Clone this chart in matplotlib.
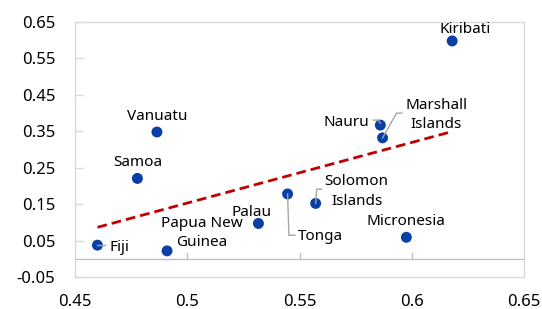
import numpy as np
import matplotlib
matplotlib.use("Agg")
import matplotlib.pyplot as plt
from matplotlib.transforms import IdentityTransform

plt.rcParams['font.family'] = ['Noto Sans', 'DejaVu Sans']

# ---- data ----
countries = ["Kiribati", "Nauru", "Marshall\nIslands", "Vanuatu", "Samoa", "Fiji",
             "Papua New\nGuinea", "Palau", "Tonga", "Solomon\nIslands", "Micronesia"]
x_vals = [0.618, 0.586, 0.587, 0.4865, 0.4778, 0.460, 0.491, 0.5317, 0.5447, 0.5572, 0.5976]
y_vals = [0.598, 0.367, 0.332, 0.348, 0.2206, 0.0374, 0.0217, 0.097, 0.178, 0.152, 0.059]
x_ticks = [0.45, 0.5, 0.55, 0.6, 0.65]
x_tick_labels = ["0.45", "0.5", "0.55", "0.6", "0.65"]
y_ticks = [-0.05, 0.05, 0.15, 0.25, 0.35, 0.45, 0.55, 0.65]
y_tick_labels = ["-0.05", "0.05", "0.15", "0.25", "0.35", "0.45", "0.55", "0.65"]

# ---- label layout (pixel offsets from point; y up) ----
label_layout = {
    "Kiribati": dict(dx=13, dy=11, ha="center"),
    "Nauru": dict(dx=-11, dy=3, ha="right"),
    "Marshall\nIslands": dict(dx=54, dy=23, ha="center"),
    "Vanuatu": dict(dx=0, dy=16, ha="center"),
    "Samoa": dict(dx=0, dy=16, ha="center"),
    "Fiji": dict(dx=12, dy=-2, ha="left"),
    "Papua New\nGuinea": dict(dx=34.5, dy=18, ha="center"),
    "Palau": dict(dx=-7, dy=11, ha="center"),
    "Tonga": dict(dx=10, dy=-43, ha="left"),
    "Solomon\nIslands": dict(dx=41, dy=12, ha="center"),
    "Micronesia": dict(dx=0, dy=16, ha="center"),
}
leaders = {
    "Marshall\nIslands": [(0, 0), (14, 24.7), (19.3, 24.7)],
    "Tonga": [(0, 0), (1.3, -41.3), (7.3, -41.3)],
    "Solomon\nIslands": [(0, 0), (1, 14.3), (6, 14.3)],
    "Nauru": [(-7, 5), (-2, 5), (0, 2)],
    "Fiji": [(0, 0), (8, 0)],
}

W, H = 542, 309
fig = plt.figure(figsize=(W / 100, H / 100), dpi=100)
ax = fig.add_axes([75 / W, 1 - 277 / H, (524 - 75) / W, (277 - 22) / H])
ax.set_xlim(0.45, 0.65)
ax.set_ylim(-0.05, 0.65)

grey = "#D9D9D9"
for s in ax.spines.values():
    s.set_color(grey)
    s.set_linewidth(1.0)

ax.axhline(0, color="#BFBFBF", lw=1.0, zorder=1)

ax.set_xticks(x_ticks)
ax.set_xticklabels(x_tick_labels)
ax.set_yticks(y_ticks)
ax.set_yticklabels(y_tick_labels)
ax.tick_params(axis="x", length=0, pad=12, labelsize=12, colors="black")
ax.tick_params(axis="y", direction="in", length=6, width=1, color=grey, pad=14, labelsize=12)
for xt in x_ticks[1:-1]:
    ax.plot([xt, xt], [0, 0.017], color="#BFBFBF", lw=1.0, zorder=1)

# trendline (least squares)
xa = np.array(x_vals)
ya = np.array(y_vals)
m, b = np.polyfit(xa, ya, 1)
xl = np.array([xa.min(), xa.max()])
ax.plot(xl, m * xl + b, color="#C00000", lw=2.0, dashes=(3.5, 1.8), zorder=2)

ax.scatter(x_vals, y_vals, s=62, color="#0A3FA6", edgecolors="none", zorder=4)

fig.canvas.draw()
for name, xv, yv in zip(countries, x_vals, y_vals):
    L = label_layout[name]
    ax.annotate(name, xy=(xv, yv), xytext=(L["dx"], L["dy"]), textcoords="offset pixels",
                ha=L["ha"], va="center", fontsize=11, linespacing=1.4, zorder=5)
    if name in leaders:
        px, py = ax.transData.transform((xv, yv))
        pts = np.array(leaders[name], dtype=float)
        line = plt.Line2D(px + pts[:, 0], py + pts[:, 1], transform=IdentityTransform(),
                          color="#A6A6A6", lw=1.0, zorder=3)
        fig.add_artist(line)

fig.savefig("out.png", dpi=100)
